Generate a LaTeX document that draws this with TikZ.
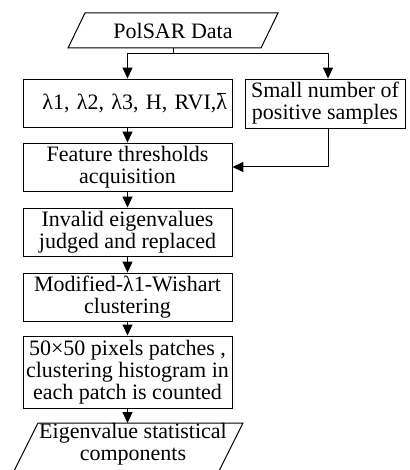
\documentclass[tikz,border=0pt]{standalone}
\usepackage{fontspec}
\setmainfont{Liberation Serif}
\newfontfamily\tnr{Liberation Serif}
\usetikzlibrary{arrows.meta}
\newcommand\lbarsym{\leavevmode\setbox0\hbox{λ}\rlap{λ}\hbox to\wd0{\hss\raisebox{0.74em}{\rule{0.42em}{0.045em}}\hss}}
\begin{document}
\begin{tikzpicture}[x=1pt,y=-1pt,
  box/.style={draw, line width=0.9pt, minimum width=209pt, minimum height=48pt, inner sep=0pt, align=center, font=\tnr\fontsize{22}{22}\selectfont},
  txt/.style={inner sep=0pt, align=center, font=\tnr\fontsize{22}{22}\selectfont},
  arr/.style={line width=1pt, -{Triangle[length=11pt,width=10pt]}},
  ln/.style={line width=1pt}]
\useasboundingbox (0,0) rectangle (409,470);
% input
\node[txt] (data) at (173,30.5) {PolSAR Data};
\draw[ln] (85,13) -- (278,13) -- (261,48) -- (68,48) -- cycle;
\coordinate (dataS) at (173,48);
% boxes
\node[box, text width=199pt, align=right, inner xsep=5pt] (b1) at (127.5,103) {λ1, λ2, λ3, H, RVI,\lbarsym};
\node[box, minimum width=160pt, minimum height=49pt] (b2) at (325,103.5) {Small number of\\positive samples};
\node[box] (b3) at (127.5,167) {Feature thresholds\\acquisition};
\node[box] (b4) at (127.5,232) {Invalid eigenvalues\\judged and replaced};
\node[box] (b5) at (127.5,297) {Modified-λ1-Wishart\\clustering};
\node[box, minimum height=72pt] (b6) at (127.5,372) {50×50 pixels patches ,\\clustering histogram in\\each patch is counted};
% output
\node[txt] (out) at (133,444) {Eigenvalue statistical\\components};
\draw[ln] (38,423) -- (243,423) -- (219,471) -- (14,471) -- cycle;
\coordinate (outN) at (128,423);
% connectors
\draw[ln] (dataS) -- (173,54) coordinate (split);
\draw[arr] (split) -| (b1.north);
\draw[arr] (split) -| ([xshift=3pt]b2.north);
\draw[arr] (b1) -- (b3);
\draw[arr] ([xshift=3pt]b2.south) |- (b3.east);
\draw[arr] (b3) -- (b4);
\draw[arr] (b4) -- (b5);
\draw[arr] (b5) -- (b6);
\draw[arr] (b6.south) -- (b6.south |- outN);
\end{tikzpicture}
\end{document}
